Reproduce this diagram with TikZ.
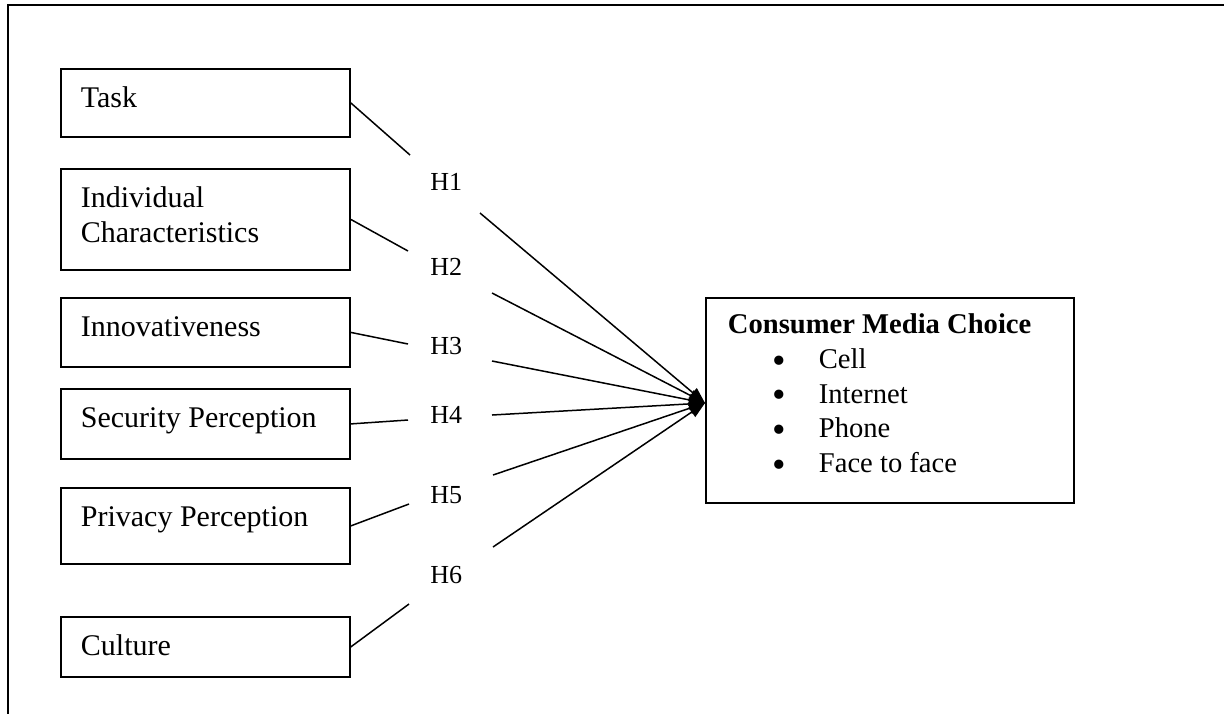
\documentclass[tikz,border=0pt]{standalone}
\usepackage{fontspec}
\usepackage{graphicx}
\setmainfont{Liberation Serif}
\usetikzlibrary{arrows.meta,calc}
\newcommand{\bigbul}{\smash{\raisebox{-2.4pt}{\scalebox{1.35}{\textbullet}}}}
\begin{document}
\begin{tikzpicture}[x=0.5pt,y=-0.5pt,
  frame/.style={line width=1pt},
  normalspace/.style={execute at begin node={\spaceskip=0pt\xspaceskip=0pt}},
  factor/.style={draw,line width=0.9pt,anchor=north west,inner xsep=10pt,inner ysep=0pt,
    text width=124.5pt,align=left,normalspace,text height=19.5pt,font=\fontsize{15}{17.5}\selectfont},
  hyp/.style={anchor=base west,inner sep=0pt,font=\fontsize{13}{15}\selectfont},
  link/.style={line width=0.75pt},
  arrowlink/.style={link,-{Triangle[length=8pt,width=6pt]}}]
\useasboundingbox (0,0) rectangle (1224,714);
% outer frame (top and left only)
\draw[frame] (1224,5) -- (8,5) -- (8,714);
% factor boxes
\node[factor,text depth=14.5pt] (task) at (60,68) {Task};
\node[factor,text depth=31pt] (indiv) at (60,168) {Individual\\Characteristics};
\node[factor,text depth=15pt] (innov) at (60,297) {Innovativeness};
\node[factor,text depth=15.5pt] (secur) at (60,388) {Security Perception};
\node[factor,text depth=18.5pt] (priv) at (60,487) {Privacy Perception};
\node[factor,text depth=10.5pt] (cult) at (60,616) {Culture};
% outcome box
\node[draw,line width=0.9pt,anchor=north west,inner xsep=11pt,inner ysep=0pt,
  text width=162pt,align=left,normalspace,text height=18pt,text depth=84.5pt,
  font=\fontsize{14.3}{17.3}\selectfont] (media) at (705,297)
  {\textbf{Consumer Media Choice}\\
   \hspace*{22.5pt}\makebox[23pt][l]{\bigbul}Cell\\
   \hspace*{22.5pt}\makebox[23pt][l]{\bigbul}Internet\\
   \hspace*{22.5pt}\makebox[23pt][l]{\bigbul}Phone\\
   \hspace*{22.5pt}\makebox[23pt][l]{\bigbul}Face to face};
\coordinate (tip) at (705,403);
% hypothesis labels
\node[hyp] (h1) at (430,190) {H1};
\node[hyp] (h2) at (430,275) {H2};
\node[hyp] (h3) at (430,354) {H3};
\node[hyp] (h4) at (430,423) {H4};
\node[hyp] (h5) at (430,503) {H5};
\node[hyp] (h6) at (430,583) {H6};
% links from boxes to labels
\draw[link] (task.east)  -- ($(h1.base west)+(-20,-35)$);
\draw[link] (indiv.east) -- ($(h2.base west)+(-22,-24)$);
\draw[link] (innov.east) -- ($(h3.base west)+(-22,-10)$);
\draw[link] (secur.east) -- ($(h4.base west)+(-22,-3)$);
\draw[link] (priv.east)  -- ($(h5.base west)+(-21,1)$);
\draw[link] (cult.east)  -- ($(h6.base west)+(-21,21)$);
% links from labels to outcome
\draw[arrowlink] ($(h1.base west)+(50,23)$) -- (tip);
\draw[arrowlink] ($(h2.base west)+(62,18)$) -- (tip);
\draw[arrowlink] ($(h3.base west)+(62,7)$) -- (tip);
\draw[arrowlink] ($(h4.base west)+(62,-8)$) -- (tip);
\draw[arrowlink] ($(h5.base west)+(63,-28)$) -- (tip);
\draw[arrowlink] ($(h6.base west)+(63,-36)$) -- (tip);
\end{tikzpicture}
\end{document}
